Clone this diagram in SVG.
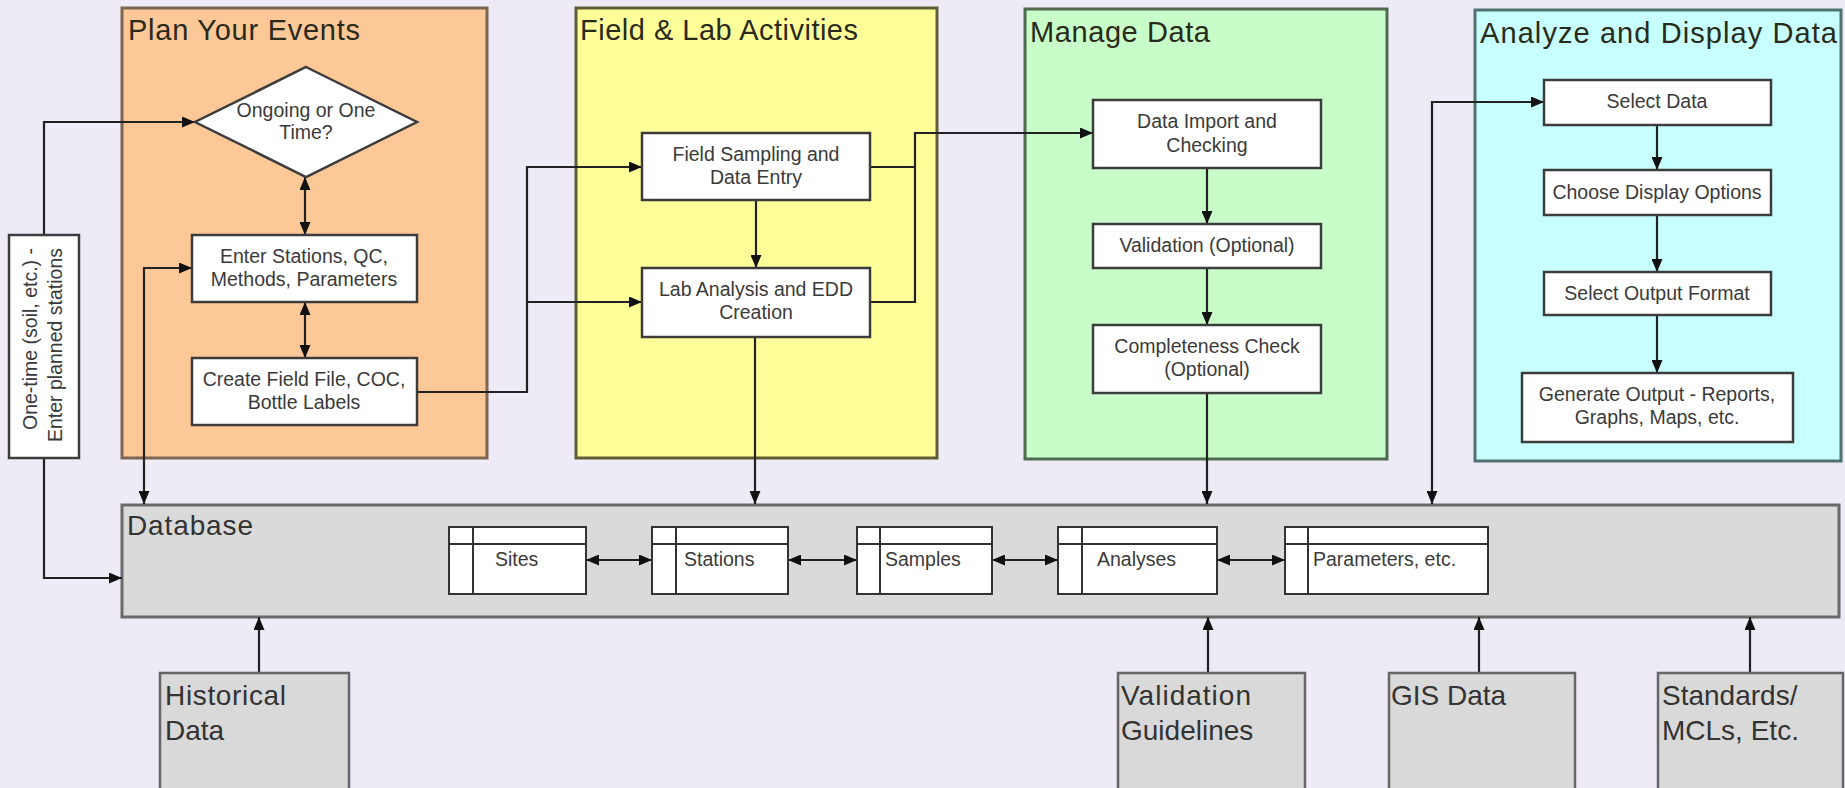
<svg xmlns="http://www.w3.org/2000/svg" width="1845" height="788" viewBox="0 0 1845 788">
  <style>
    text { font-family: "Liberation Sans", Arial, sans-serif; fill: #2b2b2b; }
    .title { font-size: 29px; fill: #2a2a1a; }
    .big { font-size: 28px; fill: #333; }
    .lbl { font-size: 19.5px; text-anchor: middle; fill: #3a3a3a; }
    .tbl { font-size: 19.5px; fill: #3a3a3a; }
    .node { fill: #ffffff; stroke: #3c3c3c; stroke-width: 2.5; }
    .tab { fill: #ffffff; stroke: #333; stroke-width: 2; }
    .tabline { stroke: #333; stroke-width: 2; fill: none; }
    .ext { fill: #d9d9d9; stroke: #666; stroke-width: 2.5; }
    .conn { fill: none; stroke: #222; stroke-width: 2.2; }
  </style>
  <defs>
    <marker id="arr" viewBox="0 0 13 11" refX="13" refY="5.5" markerWidth="13" markerHeight="11" markerUnits="userSpaceOnUse" orient="auto-start-reverse">
      <path d="M0,0 L13,5.5 L0,11 z" fill="#111"/>
    </marker>
  </defs>

  <!-- background -->
  <rect x="0" y="0" width="1845" height="788" fill="#eeeaf6"/>

  <!-- swimlane containers -->
  <g id="lane-plan">
    <rect x="122" y="8" width="365" height="450" fill="#fdc897" stroke="#7d6650" stroke-width="3"/>
    <text class="title" x="128" y="40" textLength="232">Plan Your Events</text>
  </g>
  <g id="lane-field">
    <rect x="576" y="8" width="361" height="450" fill="#ffff9a" stroke="#5e5e36" stroke-width="3"/>
    <text class="title" x="580" y="40" textLength="278">Field &amp; Lab Activities</text>
  </g>
  <g id="lane-manage">
    <rect x="1025" y="9" width="362" height="450" fill="#c8fcc8" stroke="#4f6a4f" stroke-width="3"/>
    <text class="title" x="1030" y="42" textLength="180">Manage Data</text>
  </g>
  <g id="lane-analyze">
    <rect x="1475" y="10" width="366" height="451" fill="#c8ffff" stroke="#4f7272" stroke-width="3"/>
    <text class="title" x="1480" y="43" textLength="357">Analyze and Display Data</text>
  </g>

  <!-- database -->
  <g id="database">
    <rect x="122" y="505" width="1717" height="112" fill="#dadada" stroke="#6a6a6a" stroke-width="3"/>
    <text class="big" x="127" y="535" textLength="126">Database</text>
  </g>

  <!-- connectors -->
  <g id="connectors">
    <path class="conn" d="M44,235 V122 H195" marker-end="url(#arr)"/>
    <path class="conn" d="M44,458 V578 H122" marker-end="url(#arr)"/>
    <path class="conn" d="M305,177 V235" marker-start="url(#arr)" marker-end="url(#arr)"/>
    <path class="conn" d="M305,302 V358" marker-start="url(#arr)" marker-end="url(#arr)"/>
    <path class="conn" d="M144,504 V268 H192" marker-start="url(#arr)" marker-end="url(#arr)"/>
    <path class="conn" d="M417,392 H527 V167 H642" marker-end="url(#arr)"/>
    <path class="conn" d="M527,302 H642" marker-end="url(#arr)"/>
    <path class="conn" d="M756,200 V268" marker-end="url(#arr)"/>
    <path class="conn" d="M755,337 V504" marker-end="url(#arr)"/>
    <path class="conn" d="M870,167 H915"/>
    <path class="conn" d="M870,302 H915 V133 H1093" marker-end="url(#arr)"/>
    <path class="conn" d="M1207,168 V224" marker-end="url(#arr)"/>
    <path class="conn" d="M1207,268 V325" marker-end="url(#arr)"/>
    <path class="conn" d="M1207,393 V504" marker-end="url(#arr)"/>
    <path class="conn" d="M1432,504 V102 H1544" marker-start="url(#arr)" marker-end="url(#arr)"/>
    <path class="conn" d="M1657,125 V170" marker-end="url(#arr)"/>
    <path class="conn" d="M1657,215 V272" marker-end="url(#arr)"/>
    <path class="conn" d="M1657,315 V373" marker-end="url(#arr)"/>
    <path class="conn" d="M586,560 H652" marker-start="url(#arr)" marker-end="url(#arr)"/>
    <path class="conn" d="M788,560 H857" marker-start="url(#arr)" marker-end="url(#arr)"/>
    <path class="conn" d="M992,560 H1058" marker-start="url(#arr)" marker-end="url(#arr)"/>
    <path class="conn" d="M1217,560 H1285" marker-start="url(#arr)" marker-end="url(#arr)"/>
    <path class="conn" d="M259,673 V617" marker-end="url(#arr)"/>
    <path class="conn" d="M1208,673 V617" marker-end="url(#arr)"/>
    <path class="conn" d="M1479,673 V617" marker-end="url(#arr)"/>
    <path class="conn" d="M1750,673 V617" marker-end="url(#arr)"/>
  </g>

  <!-- one-time entry label -->
  <g id="one-time">
    <rect class="node" x="9" y="235" width="70" height="223"/>
    <text class="lbl" transform="translate(37,339) rotate(-90)">One-time (soil, etc.) -</text>
    <text class="lbl" transform="translate(62,345) rotate(-90)">Enter planned stations</text>
  </g>

  <!-- plan lane -->
  <g id="ongoing">
    <polygon points="306,67 417,122 306,177 195,122" fill="#fff" stroke="#3c3c3c" stroke-width="2.5"/>
    <text class="lbl" x="306" y="117">Ongoing or One</text>
    <text class="lbl" x="306" y="139">Time?</text>
  </g>
  <g id="enter-stations">
    <rect class="node" x="192" y="235" width="225" height="67"/>
    <text class="lbl" x="304" y="263">Enter Stations, QC,</text>
    <text class="lbl" x="304" y="286">Methods, Parameters</text>
  </g>
  <g id="create-field-file">
    <rect class="node" x="192" y="358" width="225" height="67"/>
    <text class="lbl" x="304" y="386">Create Field File, COC,</text>
    <text class="lbl" x="304" y="409">Bottle Labels</text>
  </g>

  <!-- field & lab lane -->
  <g id="field-sampling">
    <rect class="node" x="642" y="133" width="228" height="67"/>
    <text class="lbl" x="756" y="161">Field Sampling and</text>
    <text class="lbl" x="756" y="184">Data Entry</text>
  </g>
  <g id="lab-analysis">
    <rect class="node" x="642" y="268" width="228" height="69"/>
    <text class="lbl" x="756" y="296">Lab Analysis and EDD</text>
    <text class="lbl" x="756" y="319">Creation</text>
  </g>

  <!-- manage lane -->
  <g id="data-import">
    <rect class="node" x="1093" y="100" width="228" height="68"/>
    <text class="lbl" x="1207" y="128">Data Import and</text>
    <text class="lbl" x="1207" y="152">Checking</text>
  </g>
  <g id="validation">
    <rect class="node" x="1093" y="224" width="228" height="44"/>
    <text class="lbl" x="1207" y="252">Validation (Optional)</text>
  </g>
  <g id="completeness">
    <rect class="node" x="1093" y="325" width="228" height="68"/>
    <text class="lbl" x="1207" y="353">Completeness Check</text>
    <text class="lbl" x="1207" y="376">(Optional)</text>
  </g>

  <!-- analyze lane -->
  <g id="select-data">
    <rect class="node" x="1544" y="80" width="227" height="45"/>
    <text class="lbl" x="1657" y="108">Select Data</text>
  </g>
  <g id="display-options">
    <rect class="node" x="1544" y="170" width="227" height="45"/>
    <text class="lbl" x="1657" y="199">Choose Display Options</text>
  </g>
  <g id="output-format">
    <rect class="node" x="1544" y="272" width="227" height="43"/>
    <text class="lbl" x="1657" y="300">Select Output Format</text>
  </g>
  <g id="generate-output">
    <rect class="node" x="1522" y="373" width="271" height="69"/>
    <text class="lbl" x="1657" y="401">Generate Output - Reports,</text>
    <text class="lbl" x="1657" y="424">Graphs, Maps, etc.</text>
  </g>

  <!-- database tables -->
  <g id="tbl-sites">
    <rect class="tab" x="449" y="527" width="137" height="67"/>
    <path class="tabline" d="M449,544 H586 M473,527 V594"/>
    <text class="tbl" x="495" y="566">Sites</text>
  </g>
  <g id="tbl-stations">
    <rect class="tab" x="652" y="527" width="136" height="67"/>
    <path class="tabline" d="M652,544 H788 M676,527 V594"/>
    <text class="tbl" x="684" y="566">Stations</text>
  </g>
  <g id="tbl-samples">
    <rect class="tab" x="857" y="527" width="135" height="67"/>
    <path class="tabline" d="M857,544 H992 M880,527 V594"/>
    <text class="tbl" x="885" y="566">Samples</text>
  </g>
  <g id="tbl-analyses">
    <rect class="tab" x="1058" y="527" width="159" height="67"/>
    <path class="tabline" d="M1058,544 H1217 M1082,527 V594"/>
    <text class="tbl" x="1097" y="566">Analyses</text>
  </g>
  <g id="tbl-parameters">
    <rect class="tab" x="1285" y="527" width="203" height="67"/>
    <path class="tabline" d="M1285,544 H1488 M1308,527 V594"/>
    <text class="tbl" x="1313" y="566">Parameters, etc.</text>
  </g>

  <!-- external data sources -->
  <g id="historical">
    <rect class="ext" x="160" y="673" width="189" height="120"/>
    <text class="big" x="165" y="705" textLength="121">Historical</text>
    <text class="big" x="165" y="740">Data</text>
  </g>
  <g id="validation-guidelines">
    <rect class="ext" x="1118" y="673" width="187" height="120"/>
    <text class="big" x="1121" y="705" textLength="130">Validation</text>
    <text class="big" x="1121" y="740">Guidelines</text>
  </g>
  <g id="gis-data">
    <rect class="ext" x="1389" y="673" width="186" height="120"/>
    <text class="big" x="1391" y="705">GIS Data</text>
  </g>
  <g id="standards">
    <rect class="ext" x="1658" y="673" width="185" height="120"/>
    <text class="big" x="1662" y="705">Standards/</text>
    <text class="big" x="1662" y="740">MCLs, Etc.</text>
  </g>
</svg>
